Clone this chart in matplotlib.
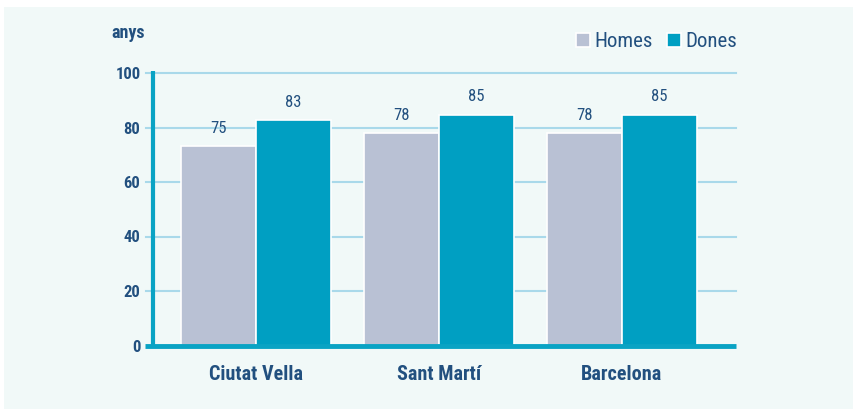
import matplotlib.pyplot as plt
import matplotlib.patches as mpatches
import numpy as np

plt.rcParams['font.family'] = ['Liberation Sans Narrow', 'Roboto Condensed', 'Open Sans Condensed',
                               'DejaVu Sans Condensed', 'Roboto', 'DejaVu Sans']
plt.rcParams['font.stretch'] = 'condensed'

categories = ["Ciutat Vella", "Sant Martí", "Barcelona"]
homes = [73.1, 77.8, 77.8]
dones = [82.7, 84.7, 84.7]
homes_labels = ["75", "78", "78"]
dones_labels = ["83", "85", "85"]
yticks = [0, 20, 40, 60, 80, 100]

TEXT = "#22507f"
C_HOMES = "#b9c1d4"
C_DONES = "#009fc2"
AXIS = "#0aa3c4"
GRID = "#a9d9ea"
BG = "#f1f9f8"

fig = plt.figure(figsize=(8.54, 4.09), dpi=100, facecolor="white")
fig.patches.append(mpatches.Rectangle((4 / 854, 0), 1, 1 - 7 / 409,
                                      transform=fig.transFigure,
                                      facecolor=BG, edgecolor="none", zorder=-10))

ax = fig.add_axes([153 / 854, 1 - 345.5 / 409, (736 - 153) / 854, (345.5 - 73) / 409])
ax.set_facecolor("none")

x = np.arange(len(categories))
w = 0.41
b1 = ax.bar(x - w / 2, homes, w, color=C_HOMES, edgecolor="white", linewidth=1.2, zorder=3)
b2 = ax.bar(x + w / 2, dones, w, color=C_DONES, edgecolor="white", linewidth=1.2, zorder=3)

for rect, lab in zip(b1, homes_labels):
    ax.annotate(lab, (rect.get_x() + rect.get_width() / 2, rect.get_height()),
                xytext=(0, 7.5), textcoords="offset points", ha="center", va="bottom",
                fontsize=12, color=TEXT, zorder=4)
for rect, lab in zip(b2, dones_labels):
    ax.annotate(lab, (rect.get_x() + rect.get_width() / 2, rect.get_height()),
                xytext=(0, 7.5), textcoords="offset points", ha="center", va="bottom",
                fontsize=12, color=TEXT, zorder=4)

ax.set_xlim(-0.562, 2.625)
ax.set_ylim(0, 100)
ax.set_yticks(yticks)
ax.set_yticklabels([str(v) for v in yticks], fontsize=12, fontweight="bold", color=TEXT)
ax.tick_params(axis="y", length=0, pad=9)
ax.set_xticks(x)
ax.set_xticklabels(categories, fontsize=14.5, fontweight="bold", color=TEXT)
ax.tick_params(axis="x", length=0, pad=14)

for v in yticks[1:]:
    ax.plot([-0.6, 2.625], [v, v], color=GRID, linewidth=1.5, zorder=1, clip_on=False)

for s in ["top", "right", "bottom", "left"]:
    ax.spines[s].set_visible(False)
ax.plot([-0.562, -0.562], [0, 100.7], color=AXIS, linewidth=3, zorder=5, clip_on=False,
        solid_capstyle="butt")
ax.plot([-0.607, 2.625], [0, 0], color=AXIS, linewidth=3.5, zorder=5, clip_on=False,
        solid_capstyle="butt")

fig.text(111 / 854, 1 - 33 / 409, "anys", fontsize=13, fontweight="bold", color=TEXT,
         ha="left", va="center")

ax.legend([b1, b2], ["Homes", "Dones"], loc="center right", bbox_to_anchor=(1.016, 1.115),
          ncol=2, frameon=False, fontsize=15, handlelength=0.65, handleheight=0.65,
          handletextpad=0.22, columnspacing=0.7, labelcolor=TEXT, borderaxespad=0)

plt.savefig("out.png", dpi=100, facecolor="white")
